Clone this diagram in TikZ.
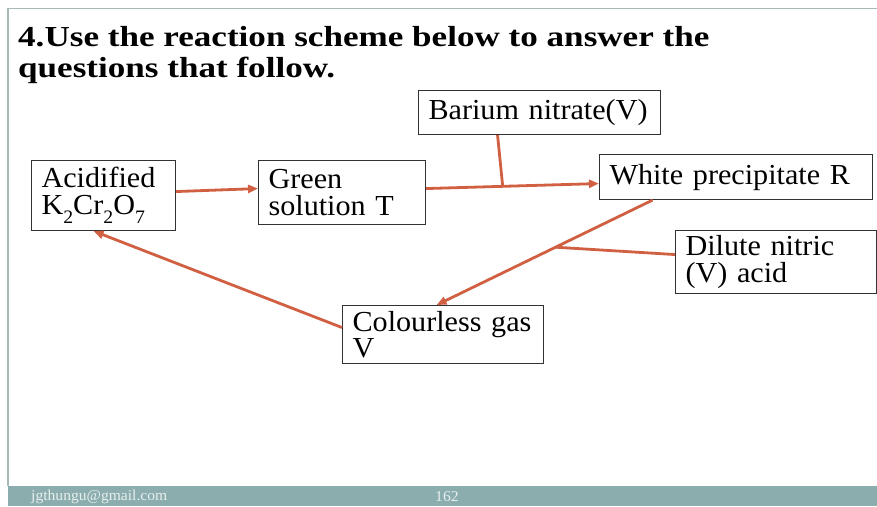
\documentclass[tikz,border=0pt]{standalone}
\usepackage{fontspec}
\setmainfont{Liberation Serif}[FakeStretch=1.04]
\newfontfamily\titlefont{Liberation Serif}[FakeStretch=1.21]
\usetikzlibrary{arrows.meta,calc}
\definecolor{arr}{RGB}{209,96,67}
\definecolor{barc}{RGB}{139,173,173}
\definecolor{framec}{RGB}{165,185,185}
\definecolor{boxline}{RGB}{50,50,50}
\newcommand\subdown[1]{\raisebox{-0.7ex}{\fontsize{19}{19}\selectfont #1}}
\begin{document}
\begin{tikzpicture}[x=1pt,y=-1pt,
  box/.style={draw=boxline, line width=1.1pt, anchor=north west, inner xsep=10pt, inner ysep=0pt, align=left, font=\fontsize{29}{27}\selectfont},
  link/.style={draw=arr, line width=2.8pt},
  arrowlink/.style={link, -{Triangle[length=10pt,width=8pt]}},
  foot/.style={anchor=west, inner sep=0pt, text=white!80!barc, font=\fontsize{15}{17}\selectfont},
  title/.style={anchor=base west, inner sep=0pt, font=\titlefont\bfseries\fontsize{29}{30}\selectfont}]
\path[use as bounding box] (0,0) rectangle (877,506);
\fill[white] (0,0) rectangle (877,506);
\draw[framec, line width=1.5pt] (8,486) -- (8,8.5) -- (877,8.5);
\fill[barc] (8,486) rectangle (877,506);
\node[foot] (mail) at (31,497) {jgthungu@gmail.com};
\node[foot] (pg) at (435,497) {162};
\node[title] (t1) at (18,46) {4.Use the reaction scheme below to answer the};
\node[title] (t2) at (18,77) {questions that follow.};
\node[box, text width=124pt, minimum height=70pt] (acid) at (31,160) {Acidified\\K\subdown{2}Cr\subdown{2}O\subdown{7}};
\node[box, text width=147pt, minimum height=64pt] (green) at (258,160) {Green\\solution T};
\node[box, text width=222pt, minimum height=44pt] (barium) at (418,90) {Barium nitrate(V)};
\node[box, text width=253pt, minimum height=45pt] (white) at (599,154) {White precipitate R};
\node[box, text width=181pt, minimum height=63pt] (dilute) at (675,230) {Dilute nitric\\(V) acid};
\node[box, text width=181pt, minimum height=58pt, font=\fontsize{29}{24}\selectfont] (gas) at (342,305) {Colourless gas\\V};
\draw[arrowlink] ([yshift=4pt]acid.east) -- ([yshift=4pt]green.west);
\draw[arrowlink] ([yshift=4pt]green.east) -- coordinate[pos=0.443] (j1) ([yshift=-6.5pt]white.west);
\draw[link] ([xshift=-42pt]barium.south) -- (j1);
\draw[arrowlink] ([xshift=-83.5pt]white.south) -- coordinate[pos=0.449] (j2) ([xshift=-6.5pt]gas.north);
\draw[link] ([yshift=7.5pt]dilute.west) -- (j2);
\draw[arrowlink] ([yshift=7pt]gas.west) -- ([xshift=-10pt]acid.south);
\end{tikzpicture}
\end{document}
